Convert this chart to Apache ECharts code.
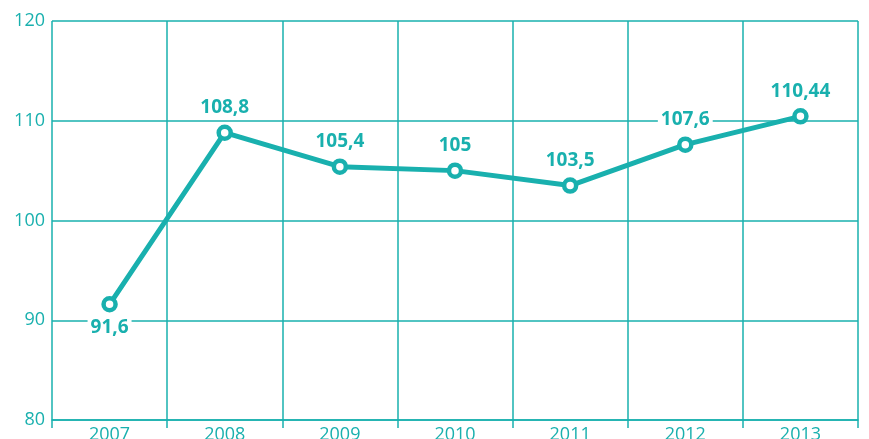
<!DOCTYPE html>
<html><head><meta charset="utf-8">
<script src="https://cdn.jsdelivr.net/npm/echarts@6/dist/echarts.min.js"></script>
<style>html,body{margin:0;padding:0;background:#fff}#c{width:869px;height:439px}</style>
</head><body><div id="c"></div>
<script>
var categories = ['2007','2008','2009','2010','2011','2012','2013'];
var values = [91.6, 108.8, 105.4, 105, 103.5, 107.6, 110.44];
var labelTexts = ['91,6','108,8','105,4','105','103,5','107,6','110,44'];
var yTicks = {min: 80, max: 120, interval: 10};
var teal = '#19b0ae';
var chart = echarts.init(document.getElementById('c'));
chart.setOption({
  animation: false,
  grid: {left: 52, right: 11, top: 21, bottom: 19, containLabel: false, outerBoundsMode: 'none'},
  xAxis: {
    type: 'category', data: categories, boundaryGap: true,
    axisLine: {show: true, lineStyle: {color: teal, width: 1.5}},
    axisTick: {show: true, length: 8, lineStyle: {color: teal, width: 1.5}},
    splitLine: {show: true, lineStyle: {color: teal, width: 1.5}},
    axisLabel: {color: teal, fontFamily: 'Open Sans', fontSize: 18, margin: 6}
  },
  yAxis: {
    type: 'value', min: yTicks.min, max: yTicks.max, interval: yTicks.interval,
    axisLine: {show: false}, axisTick: {show: false},
    splitLine: {show: true, lineStyle: {color: teal, width: 1.5}},
    axisLabel: {color: teal, fontFamily: 'Open Sans', fontSize: 18, margin: 7}
  },
  series: [{
    type: 'line', data: values.map(function(v, i){
      return {value: v, label: {position: i === 0 ? 'bottom' : 'top', distance: i === 0 ? 6 : 7}};
    }),
    lineStyle: {color: teal, width: 5},
    symbol: 'circle', symbolSize: 12,
    itemStyle: {color: '#fff', borderWidth: 4.5, borderColor: teal},
    label: {
      show: true,
      formatter: function(p){ return labelTexts[p.dataIndex]; },
      color: teal, fontFamily: 'Open Sans', fontWeight: 'bold', fontSize: 19,
      backgroundColor: '#fff', padding: [0, 3]
    },
    z: 5
  }]
});
</script></body></html>
